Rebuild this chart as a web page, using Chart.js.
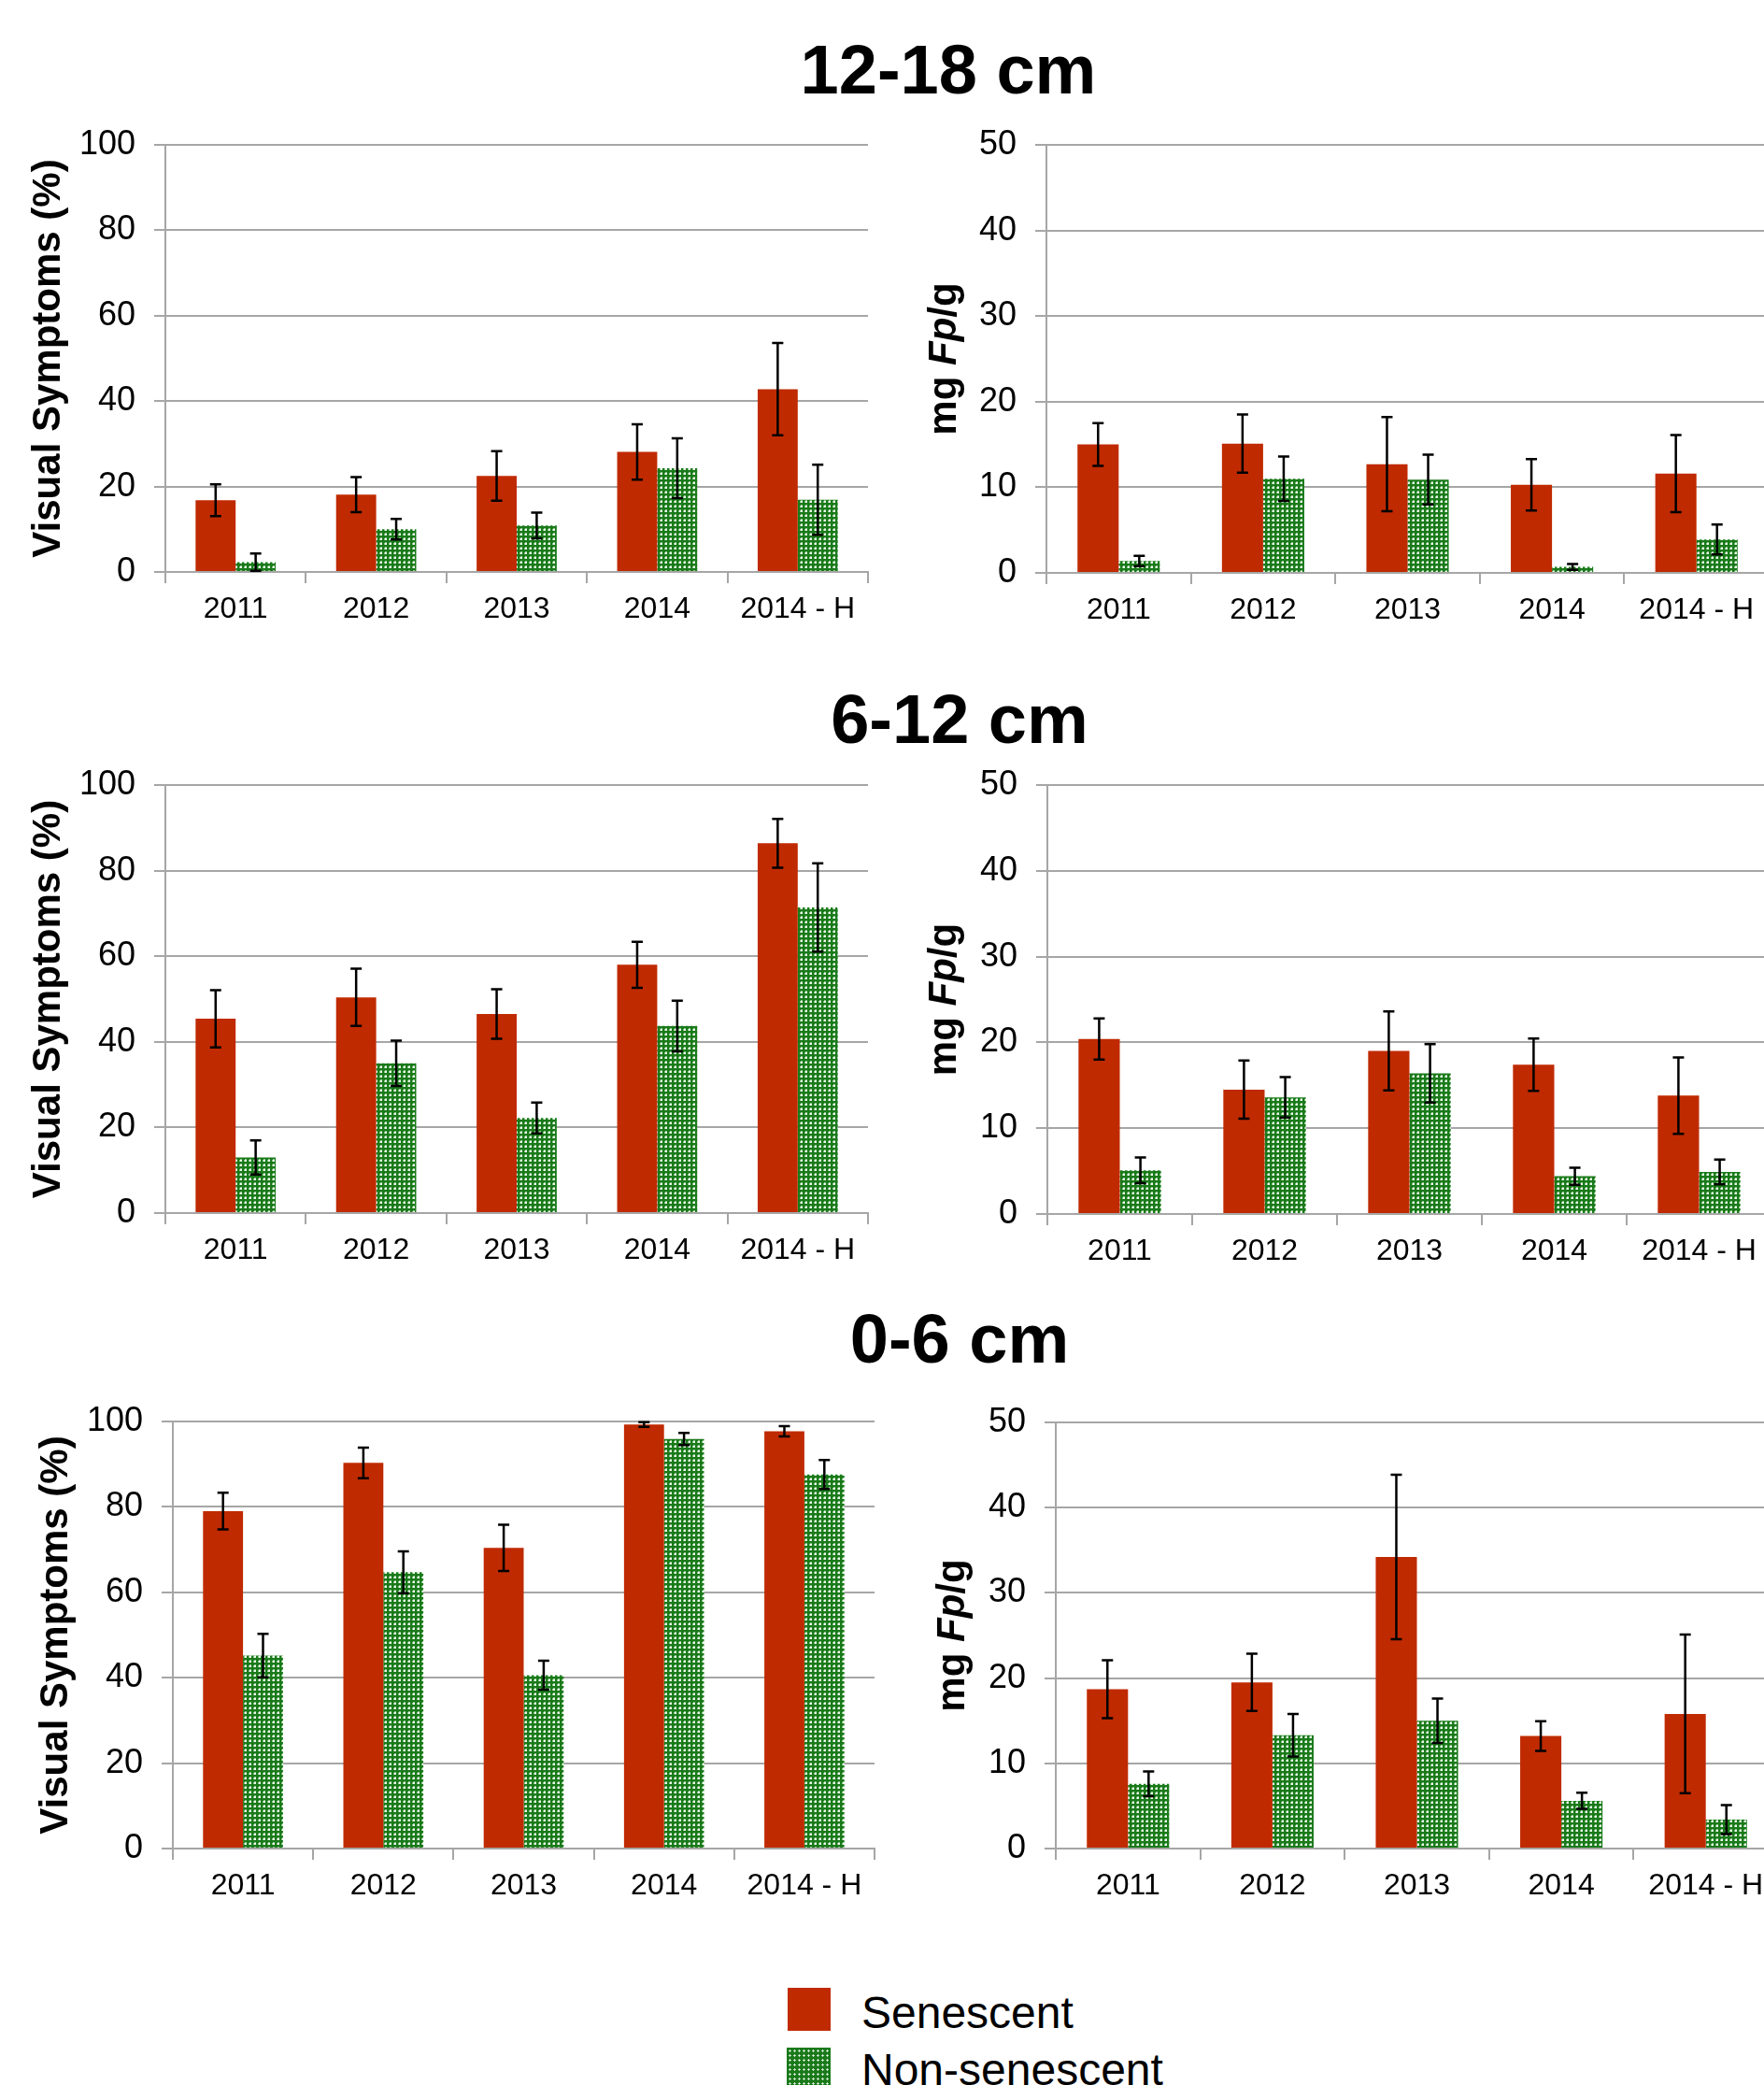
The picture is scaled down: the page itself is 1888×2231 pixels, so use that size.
<!DOCTYPE html>
<html>
<head>
<meta charset="utf-8">
<script src="https://cdn.jsdelivr.net/npm/chart.js@4.4.1/dist/chart.umd.min.js"></script>
<style>
  html, body { margin: 0; padding: 0; width: 1888px; height: 2231px; overflow: hidden; background: #fff; }
  body { position: relative; font-family: "Liberation Sans", Arial, sans-serif; color: #000; }
  canvas { position: absolute; }
  .head { position: absolute; width: 1000px; text-align: center; font-weight: bold; font-size: 74px; line-height: 74px; }
  .sw { position: absolute; width: 46px; height: 46px; }
  .dots { background-color: #1a7a1a; background-image: radial-gradient(circle, #e2f1e2 0.9px, transparent 1.4px); background-size: 5px 5px; background-position: 1px 1px; }
  .lg { position: absolute; font-size: 48px; line-height: 48px; white-space: nowrap; }
</style>
</head>
<body>

<div class="head" style="left:515px; top:38px;">12-18 cm</div>
<div class="head" style="left:527px; top:733px;">6-12 cm</div>
<div class="head" style="left:527px; top:1396px;">0-6 cm</div>

<canvas id="vis1218"></canvas>
<canvas id="fp1218"></canvas>
<canvas id="vis612"></canvas>
<canvas id="fp612"></canvas>
<canvas id="vis06"></canvas>
<canvas id="fp06"></canvas>

<div class="sw" style="left:843px; top:2127px; background:#c02a00;"></div>
<div class="lg" style="left:922px; top:2130px;">Senescent</div>
<div class="sw dots" style="left:842px; top:2191px; width:47px;"></div>
<div class="lg" style="left:922px; top:2191px;">Non-senescent</div>

<script>
// categories on every x axis
const categories = ['2011', '2012', '2013', '2014', '2014 - H'];

// 12-18 cm, visual symptoms (%)
const vis1218Sen = [16.8, 18.1, 22.5, 28.1, 42.8];
const vis1218SenErr = [3.7, 4.1, 5.8, 6.5, 10.8];
const vis1218Non = [2.3, 10.0, 10.9, 24.3, 16.9];
const vis1218NonErr = [2.0, 2.4, 3.0, 7.0, 8.2];

// 12-18 cm, mg Fp/g
const fp1218Sen = [15.0, 15.1, 12.7, 10.3, 11.6];
const fp1218SenErr = [2.5, 3.4, 5.5, 3.0, 4.5];
const fp1218Non = [1.4, 11.0, 10.9, 0.7, 3.9];
const fp1218NonErr = [0.6, 2.6, 2.9, 0.35, 1.75];

// 6-12 cm, visual symptoms (%)
const vis612Sen = [45.4, 50.4, 46.5, 58.0, 86.4];
const vis612SenErr = [6.7, 6.7, 5.8, 5.4, 5.7];
const vis612Non = [13.0, 35.0, 22.2, 43.7, 71.4];
const vis612NonErr = [4.0, 5.3, 3.6, 5.9, 10.3];

// 6-12 cm, mg Fp/g
const fp612Sen = [20.4, 14.5, 19.0, 17.4, 13.8];
const fp612SenErr = [2.4, 3.4, 4.6, 3.05, 4.45];
const fp612Non = [5.1, 13.6, 16.4, 4.4, 4.9];
const fp612NonErr = [1.5, 2.35, 3.4, 1.0, 1.45];

// 0-6 cm, visual symptoms (%)
const vis06Sen = [79.0, 90.3, 70.4, 99.3, 97.7];
const vis06SenErr = [4.3, 3.6, 5.4, 0.55, 1.2];
const vis06Non = [45.2, 64.7, 40.6, 95.9, 87.6];
const vis06NonErr = [5.1, 4.9, 3.4, 1.4, 3.4];

// 0-6 cm, mg Fp/g
const fp06Sen = [18.7, 19.5, 34.2, 13.2, 15.8];
const fp06SenErr = [3.4, 3.35, 9.65, 1.75, 9.3];
const fp06Non = [7.6, 13.3, 15.0, 5.6, 3.4];
const fp06NonErr = [1.45, 2.5, 2.6, 0.95, 1.7];

// y axis ranges
const visMax = 100, visStep = 20;
const fpMax = 50, fpStep = 10;

const FONT = '"Liberation Sans", Arial, sans-serif';
const RED = '#c02a00';
const GRID = '#a6a6a6';

Chart.defaults.font.family = FONT;
Chart.defaults.color = '#000';

// dotted green fill like the Excel pattern
function dotPattern() {
  const c = document.createElement('canvas');
  c.width = 5; c.height = 5;
  const g = c.getContext('2d');
  g.fillStyle = '#1a7a1a';
  g.fillRect(0, 0, 5, 5);
  g.fillStyle = '#8cc48c';
  g.fillRect(2, 1, 2, 1);
  g.fillRect(1, 2, 1, 2);
  g.fillStyle = '#ecf6ec';
  g.fillRect(2, 2, 2, 2);
  return g.createPattern(c, 'repeat');
}
const GREEN = dotPattern();

// draws the +/- error whiskers on each bar
const errorBars = {
  id: 'errorBars',
  afterDatasetsDraw(chart) {
    const ctx = chart.ctx;
    const y = chart.scales.y;
    ctx.save();
    ctx.strokeStyle = '#000';
    ctx.lineWidth = 2.5;
    chart.data.datasets.forEach((ds, i) => {
      chart.getDatasetMeta(i).data.forEach((bar, j) => {
        const v = ds.data[j], e = ds.errors[j];
        const top = y.getPixelForValue(v + e);
        const bot = y.getPixelForValue(v - e);
        ctx.beginPath();
        ctx.moveTo(bar.x, top); ctx.lineTo(bar.x, bot);
        ctx.moveTo(bar.x - 6, top); ctx.lineTo(bar.x + 6, top);
        ctx.moveTo(bar.x - 6, bot); ctx.lineTo(bar.x + 6, bot);
        ctx.stroke();
      });
    });
    ctx.restore();
  }
};

// rotated y title, allows italic parts (mg Fp/g)
const sideTitle = {
  id: 'sideTitle',
  afterDraw(chart, args, opts) {
    const ctx = chart.ctx;
    const a = chart.chartArea;
    const fonts = opts.parts.map(p => (p.italic ? 'italic ' : '') + 'bold ' + opts.size + 'px ' + FONT);
    let total = 0;
    const widths = opts.parts.map((p, i) => { ctx.font = fonts[i]; const w = ctx.measureText(p.text).width; total += w; return w; });
    ctx.save();
    ctx.translate(opts.x, (a.top + a.bottom) / 2);
    ctx.rotate(-Math.PI / 2);
    ctx.fillStyle = '#000';
    ctx.textBaseline = 'alphabetic';
    ctx.textAlign = 'left';
    let x = -total / 2;
    opts.parts.forEach((p, i) => { ctx.font = fonts[i]; ctx.fillText(p.text, x, 0); x += widths[i]; });
    ctx.restore();
  }
};

const visTitle = [{ text: 'Visual Symptoms (%)' }];
const fpTitle = [{ text: 'mg ' }, { text: 'Fp', italic: true }, { text: '/g' }];

// plot rectangles [left, top, right, bottom] in page pixels
const panels = [
  { id: 'vis1218', cvLeft: 0,   plot: [177, 155, 929, 612],   titleX: 64, title: visTitle, max: visMax, step: visStep, sen: vis1218Sen, senErr: vis1218SenErr, non: vis1218Non, nonErr: vis1218NonErr },
  { id: 'fp1218',  cvLeft: 940, plot: [1120, 155, 1893, 613], titleX: 83, title: fpTitle,  max: fpMax,  step: fpStep,  sen: fp1218Sen,  senErr: fp1218SenErr,  non: fp1218Non,  nonErr: fp1218NonErr },
  { id: 'vis612',  cvLeft: 0,   plot: [177, 840, 929, 1298],  titleX: 64, title: visTitle, max: visMax, step: visStep, sen: vis612Sen,  senErr: vis612SenErr,  non: vis612Non,  nonErr: vis612NonErr },
  { id: 'fp612',   cvLeft: 940, plot: [1121, 840, 1896, 1299], titleX: 83, title: fpTitle, max: fpMax,  step: fpStep,  sen: fp612Sen,   senErr: fp612SenErr,   non: fp612Non,   nonErr: fp612NonErr },
  { id: 'vis06',   cvLeft: 0,   plot: [185, 1521, 936, 1978], titleX: 72, title: visTitle, max: visMax, step: visStep, sen: vis06Sen,   senErr: vis06SenErr,   non: vis06Non,   nonErr: vis06NonErr },
  { id: 'fp06',    cvLeft: 940, plot: [1130, 1522, 1903, 1978], titleX: 92, title: fpTitle, max: fpMax, step: fpStep,  sen: fp06Sen,    senErr: fp06SenErr,    non: fp06Non,    nonErr: fp06NonErr }
];

// top pad must exceed half the top tick label + tick padding, or Chart.js grows it
const PAD_TOP = 46, X_AXIS_H = 60, PAD_RIGHT = 4;

panels.forEach(p => {
  const [l, t, r, b] = p.plot;
  const cv = document.getElementById(p.id);
  const w = r - p.cvLeft + PAD_RIGHT;
  const h = (b - t) + PAD_TOP + X_AXIS_H;
  cv.width = w; cv.height = h;
  cv.style.width = w + 'px'; cv.style.height = h + 'px';
  cv.style.left = p.cvLeft + 'px';
  cv.style.top = (t - PAD_TOP) + 'px';
  const yW = l - p.cvLeft;

  new Chart(cv.getContext('2d'), {
    type: 'bar',
    data: {
      labels: categories,
      datasets: [
        { label: 'Senescent', data: p.sen, errors: p.senErr, backgroundColor: RED, borderWidth: 0 },
        { label: 'Non-senescent', data: p.non, errors: p.nonErr, backgroundColor: GREEN, borderWidth: 0 }
      ]
    },
    options: {
      responsive: false,
      animation: false,
      devicePixelRatio: 1,
      events: [],
      datasets: { bar: { categoryPercentage: 0.57, barPercentage: 1 } },
      layout: { padding: { top: PAD_TOP, right: PAD_RIGHT, left: 0, bottom: 0 } },
      plugins: {
        legend: { display: false },
        tooltip: { enabled: false },
        sideTitle: { x: p.titleX, size: 42, parts: p.title }
      },
      scales: {
        x: {
          grid: { offset: true, drawOnChartArea: false, drawTicks: true, tickLength: 12, color: GRID, lineWidth: 2 },
          border: { color: GRID, width: 2 },
          ticks: { font: { size: 32 }, padding: 9, maxRotation: 0, autoSkip: false },
          afterFit(s) { s.height = X_AXIS_H; }
        },
        y: {
          min: 0, max: p.max,
          grid: { color: GRID, lineWidth: 2, tickLength: 12 },
          border: { color: GRID, width: 2 },
          ticks: { stepSize: p.step, font: { size: 36 }, padding: 20 },
          afterFit(s) { s.width = yW; }
        }
      }
    },
    plugins: [errorBars, sideTitle]
  });
});
</script>
</body>
</html>
